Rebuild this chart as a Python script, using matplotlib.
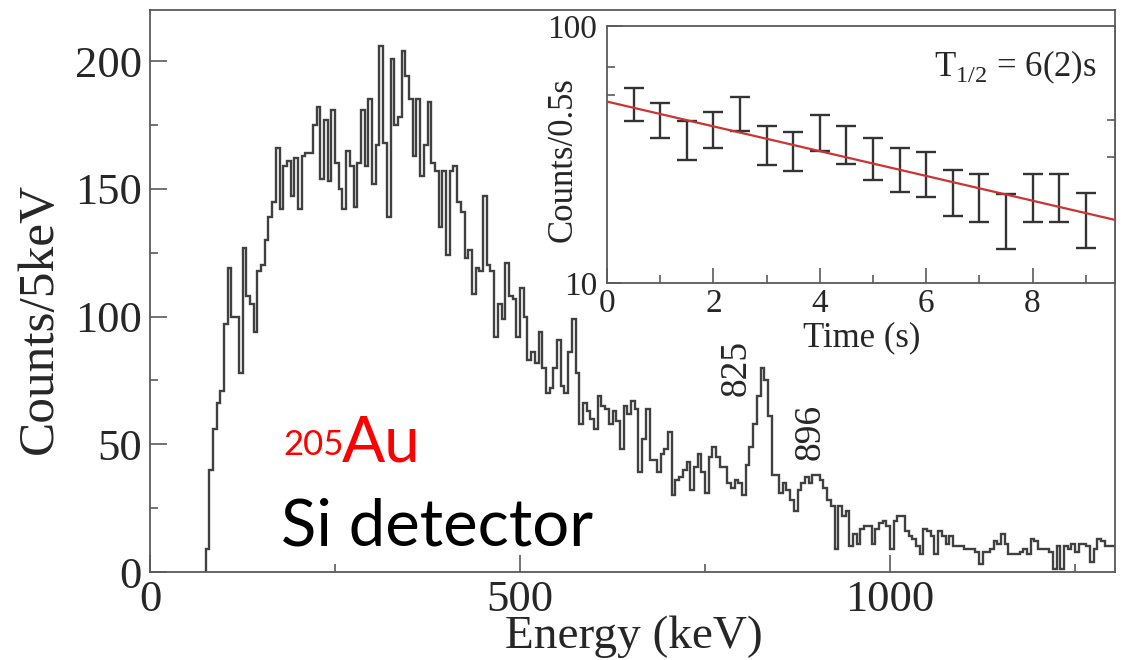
import numpy as np
import matplotlib
matplotlib.use("Agg")
import matplotlib.pyplot as plt
from matplotlib.ticker import MultipleLocator, FixedLocator, NullFormatter

plt.rcParams['font.family'] = ['Liberation Serif', 'DejaVu Serif']
plt.rcParams['mathtext.fontset'] = 'custom'
plt.rcParams['mathtext.rm'] = 'Liberation Serif'

# Si detector spectrum, 5 keV bins starting at 75 keV
bin_start = 75
bin_width = 5
counts = [
    9, 40, 56, 66, 71, 97, 119, 100, 100, 78,          # 75-120
    127, 108, 105, 94, 118, 120, 130, 139, 145, 166,   # 125-170
    142, 159, 161, 147, 162, 142, 163, 164, 164, 175,  # 175-220
    182, 154, 177, 153, 181, 160, 150, 142, 165, 159,  # 225-270
    143, 160, 181, 159, 185, 152, 167, 206, 168, 139,  # 275-320
    201, 175, 178, 204, 194, 185, 163, 185, 155, 167,  # 325-370
    184, 160, 157, 135, 157, 124, 157, 159, 145, 141,  # 375-420
    123, 126, 109, 119, 118, 147, 120, 118, 92, 105,   # 425-470
    99, 121, 108, 107, 92, 111, 100, 83, 86, 82,       # 475-520
    94, 80, 70, 72, 80, 91, 73, 70, 86, 99,            # 525-570
    78, 58, 66, 63, 60, 56, 69, 65, 64, 58,            # 575-620
    63, 59, 48, 65, 62, 67, 64, 39, 52, 64,            # 625-670
    44, 44, 39, 46, 48, 55, 30, 36, 37, 40,            # 675-720
    43, 32, 41, 46, 39, 31, 45, 49, 45, 41,            # 725-770
    41, 35, 33, 36, 35, 30, 42, 49, 58, 69,            # 775-820
    80, 75, 61, 38, 38, 31, 35, 32, 28, 24,            # 825-870
    32, 35, 37, 35, 38, 38, 36, 33, 28, 26,            # 875-920
    9, 26, 22, 24, 10, 15, 11, 17, 18, 18,             # 925-970
    11, 17, 19, 20, 18, 9, 20, 22, 22, 16,             # 975-1020
    14, 13, 10, 7, 17, 16, 14, 7, 16, 14,              # 1025-1070
    11, 14, 10, 10, 10, 9, 9, 9, 8, 3,                 # 1075-1120
    8, 8, 9, 12, 11, 15, 11, 7, 7, 7,                  # 1125-1170
    8, 9, 7, 13, 12, 9, 9, 9, 8, 1,                    # 1175-1220
    10, 1, 10, 9, 11, 8, 11, 11, 10, 4,                # 1225-1270
    9, 13, 12, 10, 10, 10,                             # 1275-1300
]
peak_labels = ["825", "896"]
peak_pos = [(792, 80), (893, 55)]

# decay curve (inset)
time_s = [0.5, 1.0, 1.5, 2.0, 2.5, 3.0, 3.5, 4.0, 4.5,
          5.0, 5.5, 6.0, 6.5, 7.0, 7.5, 8.0, 8.5, 9.0]
decay_counts = [50.0, 43.3, 36.3, 40.0, 46.0, 34.8, 33.0, 38.9, 34.9,
                30.9, 28.0, 27.0, 22.9, 21.9, 17.9, 21.9, 21.9, 18.0]
decay_err = [7.3, 6.8, 6.3, 6.4, 6.9, 6.0, 5.8, 6.2, 5.9,
             5.7, 5.5, 5.3, 4.7, 4.7, 4.3, 4.7, 4.7, 4.3]
fit_time = [0.0, 9.55]
fit_counts = [50.8, 17.6]

W, H = 1122, 660
fig = plt.figure(figsize=(W / 100, H / 100), dpi=100)

def box(l, t, r, b):
    return [l / W, 1 - b / H, (r - l) / W, (b - t) / H]

frame_c = '#5a5a5a'
text_c = '#262626'

# ---- main spectrum ----
ax = fig.add_axes(box(150, 10, 1115, 572))
edges = bin_start + bin_width * np.arange(len(counts) + 1)
ax.stairs(counts, edges, baseline=0, color='#404040', lw=1.7)
ax.set_xlim(0, 1304)
ax.set_ylim(0, 220)
ax.xaxis.set_major_locator(FixedLocator([0, 500, 1000]))
ax.xaxis.set_minor_locator(FixedLocator([250, 750, 1250]))
ax.yaxis.set_major_locator(MultipleLocator(50))
ax.yaxis.set_minor_locator(MultipleLocator(25))
ax.tick_params(which='both', direction='in', color=frame_c, width=1.2,
               labelsize=32, labelcolor=text_c)
ax.tick_params(which='major', length=12)
ax.tick_params(which='minor', length=6)
ax.tick_params(axis='y', pad=6)
ax.tick_params(axis='x', pad=6)
for s in ax.spines.values():
    s.set_color(frame_c)
    s.set_linewidth(1.3)

fig.text(40 / W, 1 - 318 / H, 'Counts/5keV', rotation=90, ha='center',
         va='center', fontsize=37, color=text_c)
fig.text(634 / W, 1 - 637 / H, 'Energy (keV)', ha='center', va='center',
         fontsize=34, color=text_c)

for lab, (xe, yc) in zip(peak_labels, peak_pos):
    ax.text(xe, yc, lab, rotation=90, ha='center', va='center',
            fontsize=27, color=text_c)

# isotope / detector labels
fig.text(283 / W, 1 - 455 / H, '205', fontsize=25, color='#ff0000',
         family='Lato', va='baseline')
fig.text(342 / W, 1 - 462 / H, 'Au', fontsize=46, color='#ff0000',
         family='Lato', va='baseline')
fig.text(281 / W, 1 - 545 / H, 'Si detector', fontsize=47, color='black',
         family='Lato', va='baseline')

# ---- inset: decay time ----
axi = fig.add_axes(box(607, 26, 1115, 283))
axi.set_facecolor('white')
axi.set_yscale('log')
axi.set_xlim(0, 9.55)
axi.set_ylim(10, 100)
axi.plot(fit_time, fit_counts, color='#cc3333', lw=1.6, zorder=3)
axi.errorbar(time_s, decay_counts, yerr=decay_err, fmt='none',
             ecolor='#333333', elinewidth=1.7, capsize=7, capthick=1.7,
             zorder=2)
axi.xaxis.set_major_locator(FixedLocator([0, 2, 4, 6, 8]))
axi.xaxis.set_minor_locator(FixedLocator([1, 3, 5, 7, 9]))
axi.yaxis.set_major_locator(FixedLocator([10, 100]))
axi.yaxis.set_minor_locator(FixedLocator([54, 69]))
axi.yaxis.set_minor_formatter(NullFormatter())
axi.set_yticklabels(['10', '100'])
axi.tick_params(which='both', direction='in', color=frame_c, width=1.2,
                labelsize=24, labelcolor=text_c)
axi.tick_params(which='major', length=11)
axi.tick_params(which='minor', length=6)
axi.tick_params(axis='y', pad=7)
axi.tick_params(axis='x', pad=4)
sec = axi.secondary_yaxis('right')
sec.yaxis.set_major_locator(FixedLocator([31, 43]))
sec.yaxis.set_minor_locator(FixedLocator([]))
sec.tick_params(direction='in', length=6, width=1.2, color=frame_c,
                labelright=False)
sec.spines['right'].set_visible(False)
for s in axi.spines.values():
    s.set_color(frame_c)
    s.set_linewidth(1.3)

fig.text(862 / W, 1 - 338 / H, 'Time (s)', ha='center', va='center',
         fontsize=25, color=text_c)
fig.text(563 / W, 1 - 160 / H, 'Counts/0.5s', rotation=90, ha='center',
         va='center', fontsize=25, color=text_c)
axi.text(0.965, 0.84, 'T$_{1/2}$ = 6(2)s', transform=axi.transAxes,
         ha='right', va='center', fontsize=25, color=text_c)

fig.savefig('out.png', dpi=100)
